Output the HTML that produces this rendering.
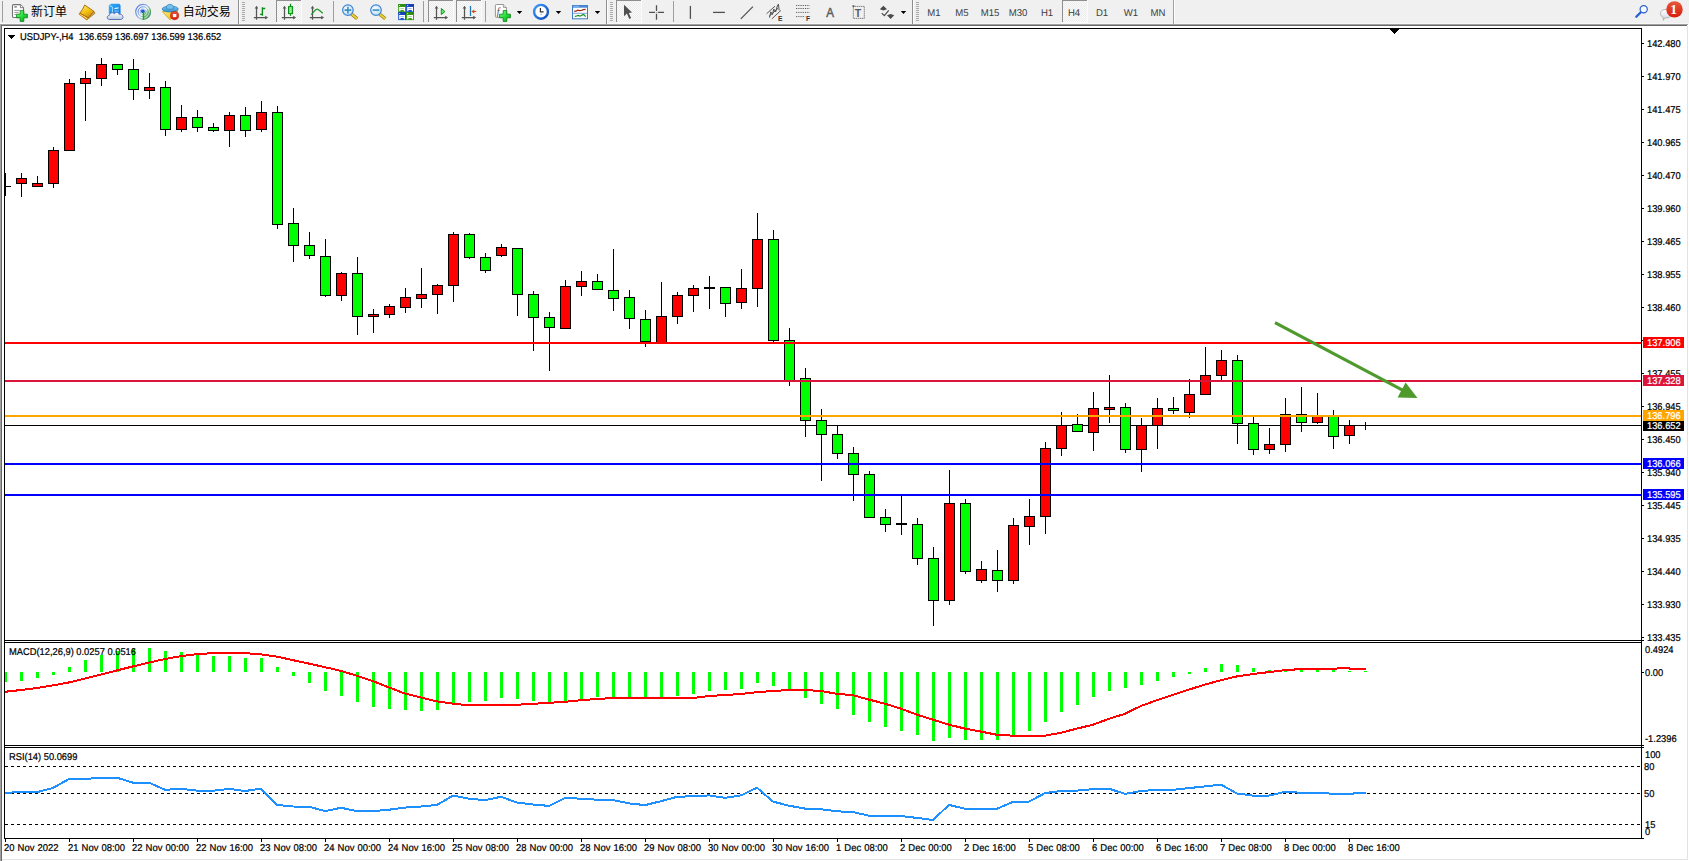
<!DOCTYPE html>
<html lang="zh-CN">
<head>
<meta charset="utf-8">
<title>USDJPY-,H4</title>
<style>
html,body{margin:0;padding:0;background:#fff;}
body{width:1689px;height:861px;overflow:hidden;position:relative;font-family:"Liberation Sans","Noto Sans CJK SC",sans-serif;}
#tb{position:absolute;left:0;top:0;width:1689px;height:23px;background:#f0f0f0;}
.t{position:absolute;white-space:pre;font-size:9.9px;line-height:11px;text-rendering:geometricPrecision;color:#000;transform:scaleX(0.944);transform-origin:0 50%;-webkit-text-stroke:0.22px #000;}
.d{transform:scaleX(0.955);word-spacing:0.5px;}
.tf{position:absolute;white-space:pre;font-size:9.9px;line-height:11px;color:#3c3c3c;width:40px;text-align:center;text-rendering:geometricPrecision;transform:scaleX(0.97);}
.one{position:absolute;left:1670.2px;top:1.5px;font-family:"Liberation Serif",serif;font-weight:bold;font-size:13.7px;line-height:15px;color:#fff;text-rendering:geometricPrecision;}
.cn{position:absolute;white-space:pre;font-size:12px;line-height:14px;color:#000;}
.pl{position:absolute;left:1643px;width:41px;height:11px;color:#fff;}
.pl span{position:absolute;left:4px;top:1px;white-space:pre;font-size:9.9px;line-height:11px;text-rendering:geometricPrecision;transform:scaleX(0.944);transform-origin:0 50%;-webkit-text-stroke:0.22px #fff;}
svg{position:absolute;left:0;top:0;}
</style>
</head>
<body>
<div id="tb"></div>

<svg width="1689" height="861" viewBox="0 0 1689 861">
<g shape-rendering="crispEdges">
<rect x="0" y="23" width="1689" height="1" fill="#f7f7f7"/>
<rect x="0" y="24" width="1688" height="1" fill="#a0a0a0"/>
<rect x="1" y="25" width="1686" height="1" fill="#696969"/>
<rect x="0" y="24" width="1" height="837" fill="#a0a0a0"/>
<rect x="1" y="25" width="1" height="836" fill="#696969"/>
<rect x="1687" y="26" width="1" height="834" fill="#e3e3e3"/>
<rect x="2" y="859" width="1686" height="1" fill="#e3e3e3"/>
<g fill="#000">
<rect x="4" y="28" width="1638" height="1"/>
<rect x="4" y="28" width="1" height="811"/>
<rect x="1641" y="28" width="1" height="811"/>
<rect x="4" y="640" width="1638" height="1"/>
<rect x="4" y="642" width="1638" height="1"/>
<rect x="4" y="745" width="1638" height="1"/>
<rect x="4" y="747" width="1638" height="1"/>
<rect x="4" y="838" width="1638" height="1"/>
</g>
<rect x="5" y="641" width="1636" height="1" fill="#fff"/>
<rect x="5" y="746" width="1636" height="1" fill="#fff"/>
<g fill="#000">
<rect x="1642" y="43" width="2" height="1"/>
<rect x="1642" y="76" width="2" height="1"/>
<rect x="1642" y="109" width="2" height="1"/>
<rect x="1642" y="142" width="2" height="1"/>
<rect x="1642" y="175" width="2" height="1"/>
<rect x="1642" y="208" width="2" height="1"/>
<rect x="1642" y="241" width="2" height="1"/>
<rect x="1642" y="274" width="2" height="1"/>
<rect x="1642" y="307" width="2" height="1"/>
<rect x="1642" y="373" width="2" height="1"/>
<rect x="1642" y="406" width="2" height="1"/>
<rect x="1642" y="439" width="2" height="1"/>
<rect x="1642" y="472" width="2" height="1"/>
<rect x="1642" y="505" width="2" height="1"/>
<rect x="1642" y="538" width="2" height="1"/>
<rect x="1642" y="571" width="2" height="1"/>
<rect x="1642" y="604" width="2" height="1"/>
<rect x="1642" y="637" width="2" height="1"/>
<rect x="1642" y="340" width="2" height="1"/>
<rect x="1642" y="672" width="2" height="1"/>
<rect x="1642" y="640" width="2" height="1"/>
<rect x="1642" y="745" width="2" height="1"/>
<rect x="1642" y="747" width="2" height="1"/>
<rect x="1642" y="838" width="2" height="1"/>
<rect x="5" y="839" width="1" height="3"/>
<rect x="69" y="839" width="1" height="3"/>
<rect x="133" y="839" width="1" height="3"/>
<rect x="197" y="839" width="1" height="3"/>
<rect x="261" y="839" width="1" height="3"/>
<rect x="325" y="839" width="1" height="3"/>
<rect x="389" y="839" width="1" height="3"/>
<rect x="453" y="839" width="1" height="3"/>
<rect x="517" y="839" width="1" height="3"/>
<rect x="581" y="839" width="1" height="3"/>
<rect x="645" y="839" width="1" height="3"/>
<rect x="709" y="839" width="1" height="3"/>
<rect x="773" y="839" width="1" height="3"/>
<rect x="837" y="839" width="1" height="3"/>
<rect x="901" y="839" width="1" height="3"/>
<rect x="965" y="839" width="1" height="3"/>
<rect x="1029" y="839" width="1" height="3"/>
<rect x="1093" y="839" width="1" height="3"/>
<rect x="1157" y="839" width="1" height="3"/>
<rect x="1221" y="839" width="1" height="3"/>
<rect x="1285" y="839" width="1" height="3"/>
<rect x="1349" y="839" width="1" height="3"/>
</g>
</g>
<g shape-rendering="crispEdges" fill="#000"><rect x="1390" y="29" width="9" height="1"/><rect x="1391" y="30" width="7" height="1"/><rect x="1392" y="31" width="5" height="1"/><rect x="1393" y="32" width="3" height="1"/><rect x="1394" y="33" width="1" height="1"/></g>
<defs><clipPath id="cm"><rect x="5" y="29" width="1636" height="611"/></clipPath><clipPath id="c2"><rect x="5" y="643" width="1636" height="102"/></clipPath><clipPath id="c3"><rect x="5" y="748" width="1636" height="90"/></clipPath></defs>
<g shape-rendering="crispEdges" fill="#000" clip-path="url(#cm)">
<rect x="5" y="425" width="1636" height="1" fill="#000"/>
<rect x="21" y="173" width="1" height="24"/>
<rect x="16" y="178" width="11" height="6"/>
<rect x="17" y="179" width="9" height="4" fill="#FF0000"/>
<rect x="37" y="176" width="1" height="11"/>
<rect x="32" y="183" width="11" height="4"/>
<rect x="33" y="184" width="9" height="2" fill="#FF0000"/>
<rect x="53" y="147" width="1" height="41"/>
<rect x="48" y="150" width="11" height="34"/>
<rect x="49" y="151" width="9" height="32" fill="#FF0000"/>
<rect x="69" y="79" width="1" height="72"/>
<rect x="64" y="83" width="11" height="68"/>
<rect x="65" y="84" width="9" height="66" fill="#FF0000"/>
<rect x="85" y="71" width="1" height="50"/>
<rect x="80" y="78" width="11" height="6"/>
<rect x="81" y="79" width="9" height="4" fill="#FF0000"/>
<rect x="101" y="58" width="1" height="28"/>
<rect x="96" y="64" width="11" height="15"/>
<rect x="97" y="65" width="9" height="13" fill="#FF0000"/>
<rect x="117" y="64" width="1" height="11"/>
<rect x="112" y="64" width="11" height="6"/>
<rect x="113" y="65" width="9" height="4" fill="#00FF00"/>
<rect x="133" y="59" width="1" height="41"/>
<rect x="128" y="69" width="11" height="21"/>
<rect x="129" y="70" width="9" height="19" fill="#00FF00"/>
<rect x="149" y="73" width="1" height="26"/>
<rect x="144" y="87" width="11" height="4"/>
<rect x="145" y="88" width="9" height="2" fill="#FF0000"/>
<rect x="165" y="81" width="1" height="55"/>
<rect x="160" y="87" width="11" height="43"/>
<rect x="161" y="88" width="9" height="41" fill="#00FF00"/>
<rect x="181" y="105" width="1" height="27"/>
<rect x="176" y="117" width="11" height="13"/>
<rect x="177" y="118" width="9" height="11" fill="#FF0000"/>
<rect x="197" y="110" width="1" height="22"/>
<rect x="192" y="117" width="11" height="11"/>
<rect x="193" y="118" width="9" height="9" fill="#00FF00"/>
<rect x="213" y="123" width="1" height="9"/>
<rect x="208" y="127" width="11" height="4"/>
<rect x="209" y="128" width="9" height="2" fill="#00FF00"/>
<rect x="229" y="112" width="1" height="35"/>
<rect x="224" y="115" width="11" height="16"/>
<rect x="225" y="116" width="9" height="14" fill="#FF0000"/>
<rect x="245" y="107" width="1" height="30"/>
<rect x="240" y="115" width="11" height="16"/>
<rect x="241" y="116" width="9" height="14" fill="#00FF00"/>
<rect x="261" y="101" width="1" height="31"/>
<rect x="256" y="112" width="11" height="18"/>
<rect x="257" y="113" width="9" height="16" fill="#FF0000"/>
<rect x="277" y="106" width="1" height="123"/>
<rect x="272" y="112" width="11" height="113"/>
<rect x="273" y="113" width="9" height="111" fill="#00FF00"/>
<rect x="293" y="208" width="1" height="54"/>
<rect x="288" y="223" width="11" height="23"/>
<rect x="289" y="224" width="9" height="21" fill="#00FF00"/>
<rect x="309" y="232" width="1" height="27"/>
<rect x="304" y="245" width="11" height="11"/>
<rect x="305" y="246" width="9" height="9" fill="#00FF00"/>
<rect x="325" y="239" width="1" height="58"/>
<rect x="320" y="256" width="11" height="40"/>
<rect x="321" y="257" width="9" height="38" fill="#00FF00"/>
<rect x="341" y="272" width="1" height="29"/>
<rect x="336" y="273" width="11" height="23"/>
<rect x="337" y="274" width="9" height="21" fill="#FF0000"/>
<rect x="357" y="257" width="1" height="78"/>
<rect x="352" y="273" width="11" height="44"/>
<rect x="353" y="274" width="9" height="42" fill="#00FF00"/>
<rect x="373" y="309" width="1" height="24"/>
<rect x="368" y="314" width="11" height="3"/>
<rect x="369" y="315" width="9" height="1" fill="#FF0000"/>
<rect x="389" y="304" width="1" height="14"/>
<rect x="384" y="306" width="11" height="9"/>
<rect x="385" y="307" width="9" height="7" fill="#FF0000"/>
<rect x="405" y="288" width="1" height="25"/>
<rect x="400" y="297" width="11" height="11"/>
<rect x="401" y="298" width="9" height="9" fill="#FF0000"/>
<rect x="421" y="268" width="1" height="40"/>
<rect x="416" y="294" width="11" height="5"/>
<rect x="417" y="295" width="9" height="3" fill="#FF0000"/>
<rect x="437" y="284" width="1" height="30"/>
<rect x="432" y="285" width="11" height="10"/>
<rect x="433" y="286" width="9" height="8" fill="#FF0000"/>
<rect x="453" y="232" width="1" height="70"/>
<rect x="448" y="234" width="11" height="52"/>
<rect x="449" y="235" width="9" height="50" fill="#FF0000"/>
<rect x="469" y="233" width="1" height="26"/>
<rect x="464" y="234" width="11" height="24"/>
<rect x="465" y="235" width="9" height="22" fill="#00FF00"/>
<rect x="485" y="253" width="1" height="20"/>
<rect x="480" y="257" width="11" height="14"/>
<rect x="481" y="258" width="9" height="12" fill="#00FF00"/>
<rect x="501" y="244" width="1" height="13"/>
<rect x="496" y="247" width="11" height="9"/>
<rect x="497" y="248" width="9" height="7" fill="#FF0000"/>
<rect x="517" y="248" width="1" height="68"/>
<rect x="512" y="248" width="11" height="47"/>
<rect x="513" y="249" width="9" height="45" fill="#00FF00"/>
<rect x="533" y="291" width="1" height="60"/>
<rect x="528" y="294" width="11" height="24"/>
<rect x="529" y="295" width="9" height="22" fill="#00FF00"/>
<rect x="549" y="312" width="1" height="59"/>
<rect x="544" y="317" width="11" height="11"/>
<rect x="545" y="318" width="9" height="9" fill="#00FF00"/>
<rect x="565" y="280" width="1" height="49"/>
<rect x="560" y="286" width="11" height="43"/>
<rect x="561" y="287" width="9" height="41" fill="#FF0000"/>
<rect x="581" y="271" width="1" height="25"/>
<rect x="576" y="281" width="11" height="6"/>
<rect x="577" y="282" width="9" height="4" fill="#FF0000"/>
<rect x="597" y="274" width="1" height="16"/>
<rect x="592" y="281" width="11" height="9"/>
<rect x="593" y="282" width="9" height="7" fill="#00FF00"/>
<rect x="613" y="249" width="1" height="62"/>
<rect x="608" y="290" width="11" height="9"/>
<rect x="609" y="291" width="9" height="7" fill="#00FF00"/>
<rect x="629" y="290" width="1" height="39"/>
<rect x="624" y="297" width="11" height="22"/>
<rect x="625" y="298" width="9" height="20" fill="#00FF00"/>
<rect x="645" y="310" width="1" height="37"/>
<rect x="640" y="319" width="11" height="23"/>
<rect x="641" y="320" width="9" height="21" fill="#00FF00"/>
<rect x="661" y="282" width="1" height="61"/>
<rect x="656" y="316" width="11" height="27"/>
<rect x="657" y="317" width="9" height="25" fill="#FF0000"/>
<rect x="677" y="292" width="1" height="32"/>
<rect x="672" y="295" width="11" height="22"/>
<rect x="673" y="296" width="9" height="20" fill="#FF0000"/>
<rect x="693" y="285" width="1" height="27"/>
<rect x="688" y="288" width="11" height="8"/>
<rect x="689" y="289" width="9" height="6" fill="#FF0000"/>
<rect x="725" y="287" width="1" height="30"/>
<rect x="720" y="287" width="11" height="17"/>
<rect x="721" y="288" width="9" height="15" fill="#00FF00"/>
<rect x="741" y="269" width="1" height="40"/>
<rect x="736" y="288" width="11" height="15"/>
<rect x="737" y="289" width="9" height="13" fill="#FF0000"/>
<rect x="757" y="213" width="1" height="94"/>
<rect x="752" y="239" width="11" height="50"/>
<rect x="753" y="240" width="9" height="48" fill="#FF0000"/>
<rect x="773" y="230" width="1" height="112"/>
<rect x="768" y="239" width="11" height="102"/>
<rect x="769" y="240" width="9" height="100" fill="#00FF00"/>
<rect x="789" y="328" width="1" height="58"/>
<rect x="784" y="340" width="11" height="41"/>
<rect x="785" y="341" width="9" height="39" fill="#00FF00"/>
<rect x="805" y="368" width="1" height="69"/>
<rect x="800" y="378" width="11" height="43"/>
<rect x="801" y="379" width="9" height="41" fill="#00FF00"/>
<rect x="821" y="409" width="1" height="72"/>
<rect x="816" y="420" width="11" height="15"/>
<rect x="817" y="421" width="9" height="13" fill="#00FF00"/>
<rect x="837" y="426" width="1" height="33"/>
<rect x="832" y="434" width="11" height="20"/>
<rect x="833" y="435" width="9" height="18" fill="#00FF00"/>
<rect x="853" y="447" width="1" height="54"/>
<rect x="848" y="453" width="11" height="22"/>
<rect x="849" y="454" width="9" height="20" fill="#00FF00"/>
<rect x="869" y="471" width="1" height="47"/>
<rect x="864" y="474" width="11" height="44"/>
<rect x="865" y="475" width="9" height="42" fill="#00FF00"/>
<rect x="885" y="509" width="1" height="23"/>
<rect x="880" y="517" width="11" height="8"/>
<rect x="881" y="518" width="9" height="6" fill="#00FF00"/>
<rect x="917" y="518" width="1" height="47"/>
<rect x="912" y="524" width="11" height="35"/>
<rect x="913" y="525" width="9" height="33" fill="#00FF00"/>
<rect x="933" y="547" width="1" height="79"/>
<rect x="928" y="558" width="11" height="43"/>
<rect x="929" y="559" width="9" height="41" fill="#00FF00"/>
<rect x="949" y="470" width="1" height="135"/>
<rect x="944" y="503" width="11" height="98"/>
<rect x="945" y="504" width="9" height="96" fill="#FF0000"/>
<rect x="965" y="499" width="1" height="75"/>
<rect x="960" y="503" width="11" height="69"/>
<rect x="961" y="504" width="9" height="67" fill="#00FF00"/>
<rect x="981" y="561" width="1" height="22"/>
<rect x="976" y="569" width="11" height="12"/>
<rect x="977" y="570" width="9" height="10" fill="#FF0000"/>
<rect x="997" y="550" width="1" height="42"/>
<rect x="992" y="570" width="11" height="11"/>
<rect x="993" y="571" width="9" height="9" fill="#00FF00"/>
<rect x="1013" y="518" width="1" height="66"/>
<rect x="1008" y="525" width="11" height="56"/>
<rect x="1009" y="526" width="9" height="54" fill="#FF0000"/>
<rect x="1029" y="499" width="1" height="46"/>
<rect x="1024" y="516" width="11" height="11"/>
<rect x="1025" y="517" width="9" height="9" fill="#FF0000"/>
<rect x="1045" y="442" width="1" height="92"/>
<rect x="1040" y="448" width="11" height="69"/>
<rect x="1041" y="449" width="9" height="67" fill="#FF0000"/>
<rect x="1061" y="412" width="1" height="44"/>
<rect x="1056" y="425" width="11" height="24"/>
<rect x="1057" y="426" width="9" height="22" fill="#FF0000"/>
<rect x="1077" y="414" width="1" height="18"/>
<rect x="1072" y="424" width="11" height="8"/>
<rect x="1073" y="425" width="9" height="6" fill="#00FF00"/>
<rect x="1093" y="392" width="1" height="59"/>
<rect x="1088" y="408" width="11" height="25"/>
<rect x="1089" y="409" width="9" height="23" fill="#FF0000"/>
<rect x="1109" y="375" width="1" height="48"/>
<rect x="1104" y="407" width="11" height="3"/>
<rect x="1105" y="408" width="9" height="1" fill="#FF0000"/>
<rect x="1125" y="403" width="1" height="50"/>
<rect x="1120" y="407" width="11" height="43"/>
<rect x="1121" y="408" width="9" height="41" fill="#00FF00"/>
<rect x="1141" y="418" width="1" height="54"/>
<rect x="1136" y="425" width="11" height="25"/>
<rect x="1137" y="426" width="9" height="23" fill="#FF0000"/>
<rect x="1157" y="398" width="1" height="51"/>
<rect x="1152" y="408" width="11" height="18"/>
<rect x="1153" y="409" width="9" height="16" fill="#FF0000"/>
<rect x="1173" y="397" width="1" height="17"/>
<rect x="1168" y="408" width="11" height="3"/>
<rect x="1169" y="409" width="9" height="1" fill="#00FF00"/>
<rect x="1189" y="379" width="1" height="39"/>
<rect x="1184" y="394" width="11" height="19"/>
<rect x="1185" y="395" width="9" height="17" fill="#FF0000"/>
<rect x="1205" y="347" width="1" height="48"/>
<rect x="1200" y="375" width="11" height="20"/>
<rect x="1201" y="376" width="9" height="18" fill="#FF0000"/>
<rect x="1221" y="350" width="1" height="30"/>
<rect x="1216" y="360" width="11" height="16"/>
<rect x="1217" y="361" width="9" height="14" fill="#FF0000"/>
<rect x="1237" y="355" width="1" height="89"/>
<rect x="1232" y="360" width="11" height="64"/>
<rect x="1233" y="361" width="9" height="62" fill="#00FF00"/>
<rect x="1253" y="417" width="1" height="38"/>
<rect x="1248" y="423" width="11" height="27"/>
<rect x="1249" y="424" width="9" height="25" fill="#00FF00"/>
<rect x="1269" y="428" width="1" height="26"/>
<rect x="1264" y="444" width="11" height="6"/>
<rect x="1265" y="445" width="9" height="4" fill="#FF0000"/>
<rect x="1285" y="398" width="1" height="54"/>
<rect x="1280" y="414" width="11" height="31"/>
<rect x="1281" y="415" width="9" height="29" fill="#FF0000"/>
<rect x="1301" y="387" width="1" height="45"/>
<rect x="1296" y="414" width="11" height="9"/>
<rect x="1297" y="415" width="9" height="7" fill="#00FF00"/>
<rect x="1317" y="393" width="1" height="31"/>
<rect x="1312" y="415" width="11" height="8"/>
<rect x="1313" y="416" width="9" height="6" fill="#FF0000"/>
<rect x="1333" y="410" width="1" height="39"/>
<rect x="1328" y="416" width="11" height="21"/>
<rect x="1329" y="417" width="9" height="19" fill="#00FF00"/>
<rect x="1349" y="420" width="1" height="24"/>
<rect x="1344" y="425" width="11" height="11"/>
<rect x="1345" y="426" width="9" height="9" fill="#FF0000"/>
<rect x="5" y="173" width="1" height="23"/>
<rect x="0" y="186" width="11" height="1"/>
<rect x="709" y="276" width="1" height="33"/>
<rect x="704" y="287" width="11" height="2"/>
<rect x="901" y="496" width="1" height="39"/>
<rect x="896" y="523" width="11" height="2"/>
<rect x="1365" y="422" width="1" height="8"/>
<rect x="1360" y="425" width="11" height="1"/>
<rect x="5" y="342" width="1636" height="2" fill="#FF0000"/>
<rect x="5" y="380" width="1636" height="2" fill="#DC143C"/>
<rect x="5" y="415" width="1636" height="2" fill="#FFA500"/>
<rect x="5" y="463" width="1636" height="2" fill="#0000FF"/>
<rect x="5" y="494" width="1636" height="2" fill="#0000FF"/>
</g>
<g clip-path="url(#cm)"><line x1="1275" y1="322.6" x2="1403" y2="390.4" stroke="#4f9a2d" stroke-width="3.2"/><path d="M1417.5 398 L1397.6 397.4 L1405.6 382.6 Z" fill="#4f9a2d"/></g>
<g shape-rendering="crispEdges" clip-path="url(#c2)">
<g fill="#00FF00">
<rect x="4" y="672" width="3" height="10"/>
<rect x="20" y="672" width="3" height="9"/>
<rect x="36" y="672" width="3" height="6"/>
<rect x="52" y="672" width="3" height="3"/>
<rect x="68" y="667" width="3" height="5"/>
<rect x="84" y="660" width="3" height="12"/>
<rect x="100" y="655" width="3" height="17"/>
<rect x="116" y="651" width="3" height="21"/>
<rect x="132" y="649" width="3" height="23"/>
<rect x="148" y="648" width="3" height="24"/>
<rect x="164" y="651" width="3" height="21"/>
<rect x="180" y="652" width="3" height="20"/>
<rect x="196" y="655" width="3" height="17"/>
<rect x="212" y="656" width="3" height="16"/>
<rect x="228" y="656" width="3" height="16"/>
<rect x="244" y="658" width="3" height="14"/>
<rect x="260" y="658" width="3" height="14"/>
<rect x="276" y="667" width="3" height="5"/>
<rect x="292" y="672" width="3" height="4"/>
<rect x="308" y="672" width="3" height="11"/>
<rect x="324" y="672" width="3" height="19"/>
<rect x="340" y="672" width="3" height="24"/>
<rect x="356" y="672" width="3" height="30"/>
<rect x="372" y="672" width="3" height="35"/>
<rect x="388" y="672" width="3" height="37"/>
<rect x="404" y="672" width="3" height="38"/>
<rect x="420" y="672" width="3" height="39"/>
<rect x="436" y="672" width="3" height="38"/>
<rect x="452" y="672" width="3" height="33"/>
<rect x="468" y="672" width="3" height="30"/>
<rect x="484" y="672" width="3" height="29"/>
<rect x="500" y="672" width="3" height="26"/>
<rect x="516" y="672" width="3" height="27"/>
<rect x="532" y="672" width="3" height="29"/>
<rect x="548" y="672" width="3" height="30"/>
<rect x="564" y="672" width="3" height="29"/>
<rect x="580" y="672" width="3" height="27"/>
<rect x="596" y="672" width="3" height="25"/>
<rect x="612" y="672" width="3" height="25"/>
<rect x="628" y="672" width="3" height="25"/>
<rect x="644" y="672" width="3" height="25"/>
<rect x="660" y="672" width="3" height="25"/>
<rect x="676" y="672" width="3" height="24"/>
<rect x="692" y="672" width="3" height="22"/>
<rect x="708" y="672" width="3" height="19"/>
<rect x="724" y="672" width="3" height="18"/>
<rect x="740" y="672" width="3" height="17"/>
<rect x="756" y="672" width="3" height="11"/>
<rect x="772" y="672" width="3" height="14"/>
<rect x="788" y="672" width="3" height="19"/>
<rect x="804" y="672" width="3" height="26"/>
<rect x="820" y="672" width="3" height="32"/>
<rect x="836" y="672" width="3" height="37"/>
<rect x="852" y="672" width="3" height="43"/>
<rect x="868" y="672" width="3" height="50"/>
<rect x="884" y="672" width="3" height="55"/>
<rect x="900" y="672" width="3" height="59"/>
<rect x="916" y="672" width="3" height="63"/>
<rect x="932" y="672" width="3" height="69"/>
<rect x="948" y="672" width="3" height="66"/>
<rect x="964" y="672" width="3" height="68"/>
<rect x="980" y="672" width="3" height="68"/>
<rect x="996" y="672" width="3" height="68"/>
<rect x="1012" y="672" width="3" height="64"/>
<rect x="1028" y="672" width="3" height="59"/>
<rect x="1044" y="672" width="3" height="50"/>
<rect x="1060" y="672" width="3" height="40"/>
<rect x="1076" y="672" width="3" height="33"/>
<rect x="1092" y="672" width="3" height="25"/>
<rect x="1108" y="672" width="3" height="19"/>
<rect x="1124" y="672" width="3" height="16"/>
<rect x="1140" y="672" width="3" height="13"/>
<rect x="1156" y="672" width="3" height="9"/>
<rect x="1172" y="672" width="3" height="5"/>
<rect x="1188" y="672" width="3" height="2"/>
<rect x="1204" y="668" width="3" height="4"/>
<rect x="1220" y="664" width="3" height="8"/>
<rect x="1236" y="665" width="3" height="7"/>
<rect x="1252" y="668" width="3" height="4"/>
<rect x="1268" y="670" width="3" height="2"/>
<rect x="1284" y="669" width="3" height="3"/>
<rect x="1300" y="670" width="3" height="2"/>
<rect x="1316" y="669" width="3" height="3"/>
<rect x="1332" y="669" width="3" height="3"/>
<rect x="1348" y="671" width="3" height="1"/>
<rect x="1364" y="671" width="3" height="1"/>
</g>
<polyline points="5,691.8 21,690.0 37,688.0 53,685.4 69,682.4 85,678.6 101,674.6 117,670.4 133,666.4 149,662.6 165,659.0 181,656.1 197,654.2 213,653.1 229,653.1 245,653.1 261,654.4 277,656.6 293,660.2 309,663.6 325,667.2 341,670.9 357,675.8 373,681.2 389,687.4 405,693.6 421,697.6 437,701.4 453,703.6 463,704.8 485,704.8 516,704.8 533,703.8 549,702.8 565,701.8 581,700.2 597,699.0 613,698.0 629,698.0 661,698.0 693,698.0 709,696.0 725,695.0 741,694.0 757,692.2 773,691.0 789,690.0 805,690.0 821,691.0 837,693.8 853,695.2 869,699.6 885,703.7 901,708.7 917,714.7 933,719.7 949,724.7 965,728.6 981,731.6 997,734.8 1013,735.7 1029,735.7 1045,735.7 1061,732.7 1077,728.6 1093,724.7 1109,718.8 1125,713.8 1141,705.9 1157,700.2 1173,694.8 1189,689.6 1205,684.5 1221,680.2 1237,676.4 1253,674.0 1269,672.1 1285,670.1 1301,669.1 1317,669.1 1333,668.6 1349,668.2 1351,669.1 1366,669.1" fill="none" stroke="#FF0000" stroke-width="2" stroke-linejoin="round"/>
</g>
<g shape-rendering="crispEdges" clip-path="url(#c3)">
<line x1="5" y1="766.5" x2="1641" y2="766.5" stroke="#000" stroke-width="1" stroke-dasharray="3 3"/>
<line x1="5" y1="793.5" x2="1641" y2="793.5" stroke="#000" stroke-width="1" stroke-dasharray="3 3"/>
<line x1="5" y1="824.5" x2="1641" y2="824.5" stroke="#000" stroke-width="1" stroke-dasharray="3 3"/>
<polyline points="5,793.1 21,791.8 37,792.2 53,787.9 69,779.0 85,779.0 101,777.7 117,777.7 133,782.7 149,782.7 165,789.8 181,788.9 197,790.6 213,790.8 229,788.9 245,791.0 261,788.7 277,804.9 293,806.5 309,806.7 325,811.1 341,807.8 357,811.1 373,811.1 389,809.7 405,807.6 421,806.5 437,804.9 453,795.6 469,798.7 485,800.1 501,796.8 517,802.6 533,804.5 549,805.9 565,798.0 581,798.7 597,799.7 613,800.1 629,803.4 645,805.1 661,801.2 677,796.8 693,796.2 709,795.4 725,797.8 741,795.4 757,787.7 773,801.6 789,805.7 805,808.6 821,809.2 837,811.3 853,812.1 869,815.7 885,815.9 901,816.1 917,817.9 933,820.0 949,804.9 965,808.8 981,808.8 997,808.8 1013,801.8 1029,801.6 1045,793.1 1061,791.0 1077,790.6 1093,789.1 1109,788.7 1125,793.9 1141,791.0 1157,789.8 1173,789.8 1189,788.1 1205,786.4 1221,784.6 1237,793.5 1253,795.6 1269,795.6 1285,791.9 1301,792.7 1317,792.7 1333,793.8 1349,793.8 1366,792.7" fill="none" stroke="#1E90FF" stroke-width="2" stroke-linejoin="round"/>
</g>
</svg>
<div class="t" style="left:20px;top:32px">USDJPY-,H4  136.659 136.697 136.599 136.652</div>
<svg width="20" height="12" style="left:0px;top:30px" shape-rendering="crispEdges"><rect x="8" y="5" width="7" height="1"/><rect x="9" y="6" width="5" height="1"/><rect x="10" y="7" width="3" height="1"/><rect x="11" y="8" width="1" height="1"/></svg>
<div class="t" style="left:9px;top:647px">MACD(12,26,9) 0.0257 0.0516</div>
<div class="t" style="left:9px;top:752px">RSI(14) 50.0699</div>
<div class="t" style="left:1647px;top:39px">142.480</div>
<div class="t" style="left:1647px;top:72px">141.970</div>
<div class="t" style="left:1647px;top:105px">141.475</div>
<div class="t" style="left:1647px;top:138px">140.965</div>
<div class="t" style="left:1647px;top:171px">140.470</div>
<div class="t" style="left:1647px;top:204px">139.960</div>
<div class="t" style="left:1647px;top:237px">139.465</div>
<div class="t" style="left:1647px;top:270px">138.955</div>
<div class="t" style="left:1647px;top:303px">138.460</div>
<div class="t" style="left:1647px;top:369px">137.455</div>
<div class="t" style="left:1647px;top:402px">136.945</div>
<div class="t" style="left:1647px;top:435px">136.450</div>
<div class="t" style="left:1647px;top:468px">135.940</div>
<div class="t" style="left:1647px;top:501px">135.445</div>
<div class="t" style="left:1647px;top:534px">134.935</div>
<div class="t" style="left:1647px;top:567px">134.440</div>
<div class="t" style="left:1647px;top:600px">133.930</div>
<div class="t" style="left:1647px;top:633px">133.435</div>
<div class="t" style="left:1645px;top:645px">0.4924</div>
<div class="t" style="left:1645px;top:668px">0.00</div>
<div class="t" style="left:1645px;top:734px">-1.2396</div>
<div class="t" style="left:1645px;top:750px">100</div>
<div class="t" style="left:1644px;top:762px">80</div>
<div class="t" style="left:1644px;top:789px">50</div>
<div class="t" style="left:1645px;top:820px">15</div>
<div class="t" style="left:1645px;top:827px">0</div>
<div class="pl" style="top:420px;background:#000"><span>136.652</span></div>
<div class="pl" style="top:337px;background:#FF0000"><span>137.906</span></div>
<div class="pl" style="top:375px;background:#DC143C"><span>137.328</span></div>
<div class="pl" style="top:410px;background:#FFA500"><span>136.796</span></div>
<div class="pl" style="top:458px;background:#0000FF"><span>136.066</span></div>
<div class="pl" style="top:489px;background:#0000FF"><span>135.595</span></div>
<div class="t d" style="left:4px;top:843px">20 Nov 2022</div>
<div class="t d" style="left:68px;top:843px">21 Nov 08:00</div>
<div class="t d" style="left:132px;top:843px">22 Nov 00:00</div>
<div class="t d" style="left:196px;top:843px">22 Nov 16:00</div>
<div class="t d" style="left:260px;top:843px">23 Nov 08:00</div>
<div class="t d" style="left:324px;top:843px">24 Nov 00:00</div>
<div class="t d" style="left:388px;top:843px">24 Nov 16:00</div>
<div class="t d" style="left:452px;top:843px">25 Nov 08:00</div>
<div class="t d" style="left:516px;top:843px">28 Nov 00:00</div>
<div class="t d" style="left:580px;top:843px">28 Nov 16:00</div>
<div class="t d" style="left:644px;top:843px">29 Nov 08:00</div>
<div class="t d" style="left:708px;top:843px">30 Nov 00:00</div>
<div class="t d" style="left:772px;top:843px">30 Nov 16:00</div>
<div class="t d" style="left:836px;top:843px">1 Dec 08:00</div>
<div class="t d" style="left:900px;top:843px">2 Dec 00:00</div>
<div class="t d" style="left:964px;top:843px">2 Dec 16:00</div>
<div class="t d" style="left:1028px;top:843px">5 Dec 08:00</div>
<div class="t d" style="left:1092px;top:843px">6 Dec 00:00</div>
<div class="t d" style="left:1156px;top:843px">6 Dec 16:00</div>
<div class="t d" style="left:1220px;top:843px">7 Dec 08:00</div>
<div class="t d" style="left:1284px;top:843px">8 Dec 00:00</div>
<div class="t d" style="left:1348px;top:843px">8 Dec 16:00</div>
<svg width="1689" height="24" viewBox="0 0 1689 24">
<defs>
<linearGradient id="gGold" x1="0.2" y1="0" x2="0.7" y2="1"><stop offset="0" stop-color="#ffe75a"/><stop offset="0.55" stop-color="#f2bf12"/><stop offset="1" stop-color="#c98a08"/></linearGradient>
<linearGradient id="gBlue" x1="0" y1="0" x2="1" y2="1"><stop offset="0" stop-color="#2fb2ff"/><stop offset="1" stop-color="#0a78e0"/></linearGradient>
<linearGradient id="gCloud" x1="0" y1="0" x2="0" y2="1"><stop offset="0" stop-color="#ffffff"/><stop offset="1" stop-color="#bcc9e0"/></linearGradient>
<linearGradient id="gGreen" x1="0" y1="0" x2="1" y2="1"><stop offset="0" stop-color="#8dff96"/><stop offset="0.5" stop-color="#22e038"/><stop offset="1" stop-color="#05a516"/></linearGradient>
<linearGradient id="gCandle" x1="0" y1="0" x2="1" y2="0"><stop offset="0" stop-color="#26d23a"/><stop offset="0.5" stop-color="#8dff96"/><stop offset="1" stop-color="#26d23a"/></linearGradient>
<linearGradient id="gRed" x1="0" y1="0" x2="0" y2="1"><stop offset="0" stop-color="#e8583a"/><stop offset="1" stop-color="#d81c0c"/></linearGradient>
<linearGradient id="gHat" x1="0" y1="0" x2="0" y2="1"><stop offset="0" stop-color="#7cc8f0"/><stop offset="1" stop-color="#2f8fd0"/></linearGradient>
<linearGradient id="gFace" x1="0" y1="0" x2="1" y2="1"><stop offset="0" stop-color="#ffef70"/><stop offset="1" stop-color="#e8b010"/></linearGradient>
<linearGradient id="gClock" x1="0" y1="0" x2="1" y2="1"><stop offset="0" stop-color="#3c9cff"/><stop offset="1" stop-color="#0a4ab8"/></linearGradient>
<radialGradient id="gLens" cx="0.4" cy="0.35" r="0.7"><stop offset="0" stop-color="#f4fbff"/><stop offset="1" stop-color="#b9def8"/></radialGradient>
<linearGradient id="gRing" x1="0" y1="0.2" x2="1" y2="0.8"><stop offset="0" stop-color="#2a5ad8"/><stop offset="0.5" stop-color="#9ab8ea"/><stop offset="0.8" stop-color="#5aa85a"/><stop offset="1" stop-color="#2a6aa8"/></linearGradient>
<linearGradient id="gWedge" x1="0" y1="0" x2="1" y2="1"><stop offset="0.2" stop-color="#e8f4e4"/><stop offset="1" stop-color="#4ab04a"/></linearGradient>
<radialGradient id="gSig" cx="0.5" cy="0.5" r="0.5"><stop offset="0" stop-color="#ffffff"/><stop offset="1" stop-color="#e2ebf6"/></radialGradient>
<linearGradient id="gBubble" x1="0" y1="0" x2="0" y2="1"><stop offset="0" stop-color="#ffffff"/><stop offset="1" stop-color="#d0d2e4"/></linearGradient>
<pattern id="hatch" width="2" height="2" patternUnits="userSpaceOnUse"><rect width="2" height="2" fill="#fbfbfb"/><rect width="1" height="1" fill="#ebebeb"/><rect x="1" y="1" width="1" height="1" fill="#ebebeb"/></pattern>
<g id="sep" shape-rendering="crispEdges"><rect x="0" y="1" width="1" height="21" fill="#9d9d9d"/></g>
<g id="bsep" shape-rendering="crispEdges"><rect x="0" y="0" width="1" height="24" fill="#8e8e8e"/><rect x="1" y="0" width="1" height="24" fill="#fdfdfd"/></g>
<g id="grip" shape-rendering="crispEdges" fill="#a9a9a9"><rect y="2" width="3" height="1"/><rect y="4" width="3" height="1"/><rect y="6" width="3" height="1"/><rect y="8" width="3" height="1"/><rect y="10" width="3" height="1"/><rect y="12" width="3" height="1"/><rect y="14" width="3" height="1"/><rect y="16" width="3" height="1"/><rect y="18" width="3" height="1"/><rect y="20" width="3" height="1"/></g>
<g id="axes"><path d="M3.5 3.5V15.8M0.8 13.6H13.5" stroke="#555" stroke-width="1.25" fill="none"/><path d="M3.5 1.7L1.7 4.6H5.3ZM15.1 13.6L12.2 11.8V15.4Z" fill="#555"/></g>
<g id="dd"><path d="M0 0H5.4L2.7 3Z" fill="#000"/></g>
<g id="plus"><path d="M4 0.4H7.6V4H11.2V7.6H7.6V11.2H4V7.6H0.4V4H4Z" fill="url(#gGreen)" stroke="#0a7d12" stroke-width="0.8" stroke-linejoin="round"/></g>
<g id="pressed" shape-rendering="crispEdges"><rect x="0" y="0" width="25" height="22" fill="url(#hatch)"/><rect x="0" y="0" width="25" height="1" fill="#8f8f8f"/><rect x="0" y="0" width="1" height="22" fill="#8f8f8f"/><rect x="25" y="0" width="1" height="23" fill="#fbfbfb"/><rect x="0" y="22" width="25" height="1" fill="#fbfbfb"/></g>
</defs>

<!-- left separator -->
<use href="#sep" x="2" y="0"/>

<!-- new order -->
<g transform="translate(12,4)">
<path d="M1.6 0.6H8.4L11.5 3.7V12.4Q11.5 13.5 10.4 13.5H1.6Q0.5 13.5 0.5 12.4V1.7Q0.5 0.6 1.6 0.6Z" fill="#fff" stroke="#747474" stroke-width="1.1"/>
<path d="M8.4 0.6V3.7H11.5" fill="#f2f2f2" stroke="#747474" stroke-width="0.9"/>
<path d="M2.3 2.9H4.8" stroke="#8c8c8c" stroke-width="1.6"/>
<path d="M2.3 6.4H7.8M2.3 8.4H6.6M2.3 10.5H4.4" stroke="#9a9a9a" stroke-width="1"/>
<use href="#plus" x="4.2" y="6.2"/>
</g>

<!-- book (history) -->
<g transform="translate(79,5)">
<path d="M9.2 12.7L14.9 6.3L16.1 8.3L7.8 14.8Z" fill="#cdb878" stroke="#9a6a10" stroke-width="0.6" stroke-linejoin="round"/>
<path d="M9.6 13.1L15.3 7.1M9 14L15.7 7.9" stroke="#a8822a" stroke-width="0.4"/>
<path d="M0.9 8.1L9.2 12.7L7.7 14.9L-0.1 9Z" fill="#eeb82a" stroke="#a86808" stroke-width="0.8" stroke-linejoin="round"/>
<path d="M0.6 8.7L8.4 13.7" stroke="#ffe27a" stroke-width="0.8"/>
<path d="M5.7 0L14.9 6.3L9.2 12.7L0.9 8.1Q3.8 4.6 5.7 0Z" fill="url(#gGold)" stroke="#a5650a" stroke-width="0.9" stroke-linejoin="round"/>
</g>

<!-- server / cloud -->
<g transform="translate(107,4)">
<path d="M2.2 1.2L4.6 0.1H12.4L13.3 1.6V9.6H2.2Z" fill="url(#gBlue)" stroke="#2a86e0" stroke-width="0.5"/>
<path d="M2.4 1.4L5.4 3V10" stroke="#c8ecff" stroke-width="0.8" fill="none"/>
<path d="M7.5 4.6L11.6 3.9" stroke="#eaf7ff" stroke-width="1.2"/>
<path d="M7.4 7H11.8" stroke="#9fd6ff" stroke-width="0.9"/>
<path d="M2.6 15.5C-0.6 15.5 -0.5 11.4 2.5 11.2C2.6 8.6 6.1 8 7.4 9.8C8.6 7.6 11.6 8.1 11.9 10.2C16.4 9.4 17.5 15.5 13.4 15.5Z" fill="url(#gCloud)" stroke="#4c6cae" stroke-width="0.95"/>
</g>

<!-- signals -->
<g transform="translate(134.8,3.5)">
<circle cx="8.3" cy="8.3" r="8" fill="url(#gSig)"/>
<path d="M8.3 8.3L8.3 16.3A8 8 0 0 0 15.6 5Z" fill="url(#gWedge)"/>
<circle cx="8.3" cy="8.3" r="7.4" fill="none" stroke="url(#gRing)" stroke-width="1.1" opacity="0.85"/>
<circle cx="8.3" cy="8.3" r="5" fill="none" stroke="url(#gRing)" stroke-width="1" opacity="0.8"/>
<circle cx="8.3" cy="8.3" r="2.9" fill="none" stroke="url(#gRing)" stroke-width="0.9" opacity="0.7"/>
<circle cx="8.1" cy="7.8" r="1.9" fill="#2256d0"/>
<path d="M8.7 8.6V16.3" stroke="#18a818" stroke-width="1.5"/>
</g>

<!-- auto trading -->
<g transform="translate(162,4)">
<path d="M0.4 7.6L15.8 7.2L8 15.8Z" fill="url(#gFace)" stroke="#c89a18" stroke-width="0.8" stroke-linejoin="round"/>
<ellipse cx="8.2" cy="5" rx="8" ry="3" fill="url(#gHat)" stroke="#2c80b8" stroke-width="0.8"/>
<path d="M4.3 4.4C4.3 1.6 5.6 0.3 7.9 0.3C10.2 0.3 11.6 1.6 11.8 4.4C10 5.6 6 5.6 4.3 4.4Z" fill="#74c0ec" stroke="#2c80b8" stroke-width="0.7"/>
<circle cx="12.6" cy="11.6" r="4.1" fill="url(#gRed)" stroke="#b01808" stroke-width="0.6"/>
<rect x="10.9" y="10" width="3.4" height="3.1" fill="#fff"/>
</g>

<use href="#bsep" x="238" y="0"/>
<use href="#grip" x="242" y="0"/>

<!-- bar chart -->
<use href="#axes" x="253" y="4"/>
<path d="M262.4 7.2V15.8M262.4 8.5H265.2M260 14.4H262.4" stroke="#0c8c14" stroke-width="1.35" fill="none"/>

<!-- candle chart (pressed) -->
<use href="#pressed" x="276" y="0"/>
<use href="#axes" x="281" y="4"/>
<path d="M290.5 3.8V15.8" stroke="#0c8c14" stroke-width="1.3"/>
<rect x="288.5" y="6.6" width="4.1" height="7" fill="url(#gCandle)" stroke="#0c8c14" stroke-width="1"/>

<!-- line chart -->
<use href="#axes" x="309" y="4"/>
<path d="M311.2 14.6C313.5 12.5 315.2 9.2 317.1 9.2C319 9.2 320.5 12 322.8 13.1" stroke="#1e9628" stroke-width="1.25" fill="none"/>

<use href="#sep" x="333" y="0"/>

<!-- zoom in -->
<g transform="translate(342,4)">
<path d="M9.4 10L15.2 14.8" stroke="#9a7a10" stroke-width="3.4" stroke-linecap="butt"/>
<path d="M9.4 10L15.2 14.8" stroke="#e6cf3a" stroke-width="2" stroke-linecap="butt"/>
<circle cx="5.9" cy="6.1" r="5.3" fill="url(#gLens)" stroke="#3d82d4" stroke-width="1.2"/>
<path d="M2.6 6.1H9.2M5.9 2.8V9.4" stroke="#3f8db8" stroke-width="1.6"/>
</g>
<!-- zoom out -->
<g transform="translate(370.1,4)">
<path d="M9.4 10L15.2 14.8" stroke="#9a7a10" stroke-width="3.4" stroke-linecap="butt"/>
<path d="M9.4 10L15.2 14.8" stroke="#e6cf3a" stroke-width="2" stroke-linecap="butt"/>
<circle cx="5.9" cy="6.1" r="5.3" fill="url(#gLens)" stroke="#3d82d4" stroke-width="1.2"/>
<path d="M2.6 6.1H9.2" stroke="#3f8db8" stroke-width="1.6"/>
</g>
<!-- tile windows -->
<g transform="translate(398.2,4.1)">
<rect x="0" y="0" width="7.9" height="8" fill="#38a018"/><rect x="7.9" y="0" width="7.9" height="8" fill="#1c52cc"/>
<rect x="0" y="8" width="7.9" height="8" fill="#1c52cc"/><rect x="7.9" y="8" width="7.9" height="8" fill="#38a018"/>
<rect x="0" y="0" width="7.9" height="2.2" fill="#2d8a10"/><rect x="7.9" y="0" width="7.9" height="2.2" fill="#1440b0"/>
<rect x="0" y="8" width="7.9" height="2.2" fill="#1440b0"/><rect x="7.9" y="8" width="7.9" height="2.2" fill="#2d8a10"/>
<g fill="#fff">
<path d="M1 3H6.8V7.2H5.6V6H2.2V7.2H1Z"/><path d="M9 3H14.8V7.2H13.6V6H10.2V7.2H9Z"/>
<path d="M1 11H6.8V15.2H5.6V14H2.2V15.2H1Z"/><path d="M9 11H14.8V15.2H13.6V14H10.2V15.2H9Z"/>
<rect x="1" y="1" width="0.9" height="0.9"/><rect x="9" y="1" width="0.9" height="0.9"/><rect x="1" y="9" width="0.9" height="0.9"/><rect x="9" y="9" width="0.9" height="0.9"/>
</g>
<path d="M2.2 4.5H5.6" stroke="#9ad080" stroke-width="0.9"/><path d="M10.2 4.5H13.6" stroke="#8aa8f0" stroke-width="0.9"/>
<path d="M2.2 12.5H5.6" stroke="#8aa8f0" stroke-width="0.9"/><path d="M10.2 12.5H13.6" stroke="#9ad080" stroke-width="0.9"/>
</g>

<use href="#sep" x="423" y="0"/>

<!-- auto scroll (pressed) -->
<use href="#pressed" x="428" y="0"/>
<use href="#axes" x="433" y="4"/>
<path d="M441.3 8.5L444.9 11.5L441.3 14.6Z" fill="#6be078" stroke="#0c9a18" stroke-width="1" stroke-linejoin="round"/>
<!-- chart shift (pressed) -->
<use href="#pressed" x="456" y="0"/>
<use href="#axes" x="461" y="4"/>
<path d="M470.5 5.9V15.9" stroke="#1e78b4" stroke-width="1.3"/>
<path d="M476.2 11.5H472" stroke="#d84a08" stroke-width="1.1" fill="none"/>
<path d="M471.4 11.5L474.4 9.4L473.9 11.5L474.4 13.6Z" fill="#d84a08"/>

<use href="#sep" x="485" y="0"/>

<!-- indicators -->
<g transform="translate(495,4)">
<path d="M1.4 0.5H8.4L11.4 3.5V12.4Q11.4 13.4 10.4 13.4H1.4Q0.4 13.4 0.4 12.4V1.5Q0.4 0.5 1.4 0.5Z" fill="#fff" stroke="#8a8a8a" stroke-width="0.9"/>
<path d="M8.4 0.5V3.5H11.4" fill="#eee" stroke="#8a8a8a" stroke-width="0.8"/>
<text x="1.8" y="10.5" font-size="10" font-style="italic" fill="#5a4a30" font-family="Liberation Serif,serif">f</text>
<use href="#plus" x="4.2" y="6.2"/>
</g>
<use href="#dd" x="516.8" y="11"/>

<!-- clock -->
<g transform="translate(533,3.8)">
<circle cx="8" cy="8" r="6.9" fill="#fdfdfd" stroke="url(#gClock)" stroke-width="2.4"/>
<circle cx="8" cy="8" r="5.7" fill="none" stroke="#b8b8b8" stroke-width="0.6" stroke-dasharray="0.5 2.48"/>
<path d="M7.4 4.3V8H10.6" stroke="#333" stroke-width="1.2" fill="none"/>
<path d="M7.2 10.6H9" stroke="#5aa0f0" stroke-width="0.7"/>
</g>
<use href="#dd" x="555.8" y="11"/>

<!-- templates -->
<g transform="translate(572,5)">
<rect x="0.5" y="0.5" width="15" height="13.3" fill="#fdfeff" stroke="#3a7ac8" stroke-width="1"/>
<rect x="0.5" y="0.5" width="15" height="2.2" fill="#4a8ad8"/>
<path d="M1.5 1.3H7" stroke="#a8d0ff" stroke-width="0.7"/>
<path d="M2.2 6.4L4 6.2L5.8 5.2L7.6 5.6L9.4 5.5L11.2 4.6L13.6 4.4" stroke="#a82408" stroke-width="1.2" fill="none"/>
<path d="M0.5 8.3H15.5" stroke="#6a9ad8" stroke-width="0.9"/>
<path d="M2.8 11.4L4.6 11L6.2 10.4L8 11.2L9.8 10.2L11.2 9.4L12.4 10.2L13.6 11.6" stroke="#0c8c14" stroke-width="1.2" fill="none"/>
</g>
<use href="#dd" x="594.8" y="11"/>

<use href="#bsep" x="606" y="0"/>
<use href="#grip" x="610" y="0"/>

<!-- cursor (pressed) -->
<use href="#pressed" x="616" y="0"/>
<path d="M624 4.7V16.2L626.9 13.6L629.3 18.9L631.1 18.1L628.8 12.9L632 12.5Z" fill="#505050"/>

<!-- crosshair -->
<path d="M656.5 5.2V11M656.5 13.8V19.8M649.1 12.4H655.1M657.9 12.4H664" stroke="#505050" stroke-width="1.3"/>
<rect x="656.1" y="12" width="0.8" height="0.8" fill="#707070"/>

<use href="#sep" x="673" y="0"/>

<!-- vline -->
<path d="M690.4 5.9V18.9" stroke="#505050" stroke-width="1.3"/>
<!-- hline -->
<path d="M713 12.4H724.9" stroke="#505050" stroke-width="1.3"/>
<!-- trend line -->
<path d="M740.8 18.9L752.9 6.6" stroke="#505050" stroke-width="1.25"/>
<!-- channel -->
<g stroke="#505050" fill="none">
<path d="M766.6 13.7L775 6.2M769.2 16.3L778 8.3M771.8 18.9L780.9 10.4" stroke-width="0.95"/>
<path d="M769.5 17.6L770.8 11.8L772.4 14.6L773.8 9L775.6 12L777.3 6L778.4 4.2L779.2 10.4" stroke-width="1"/>
</g>
<text x="777.9" y="20.8" font-size="6.7" font-weight="bold" fill="#303030" font-family="Liberation Sans,sans-serif">E</text>
<!-- fibo -->
<g stroke="#505050" stroke-width="1" stroke-dasharray="0.9 0.9">
<path d="M796 5.5H809.3M796 8.5H809.3M796 12.4H809.3M796 16.6H805.2"/>
</g>
<text x="805.9" y="20.8" font-size="6.7" font-weight="bold" fill="#303030" font-family="Liberation Sans,sans-serif">F</text>
<!-- A -->
<text x="826.2" y="16.9" font-size="12.6" font-weight="normal" stroke="#5a5a5a" stroke-width="0.45" fill="#5a5a5a" font-family="Liberation Sans,sans-serif" transform="translate(826.2 0) scale(0.92 1) translate(-826.2 0)">A</text>
<!-- T label -->
<rect x="853.3" y="6.4" width="11" height="12" fill="none" stroke="#505050" stroke-width="1" stroke-dasharray="1 1"/>
<rect x="852.4" y="5.4" width="2" height="1.3" fill="#404040"/>
<text x="854.7" y="16.6" font-size="10.6" font-weight="bold" fill="#5a5a5a" font-family="Liberation Sans,sans-serif">T</text>
<!-- arrows -->
<g fill="#4a4a4a">
<path d="M883.4 5.7L887 9.3L883.4 10.6L879.8 9.3Z"/>
<path d="M890.6 19L887 15.2L890.6 13.9L894.2 15.2Z"/>
</g>
<path d="M881.8 13.3L884.4 15.6L888.7 10.4" stroke="#4a4a4a" stroke-width="1.2" fill="none"/>
<use href="#dd" x="900.8" y="11"/>

<use href="#bsep" x="912" y="0"/>
<use href="#grip" x="916" y="0"/>

<!-- H4 pressed -->
<g transform="translate(1062,0)" shape-rendering="crispEdges"><rect x="0" y="0" width="25" height="22" fill="url(#hatch)"/><rect x="0" y="0" width="25" height="1" fill="#8f8f8f"/><rect x="0" y="0" width="1" height="22" fill="#8f8f8f"/><rect x="25" y="0" width="1" height="23" fill="#fbfbfb"/><rect x="0" y="22" width="25" height="1" fill="#fbfbfb"/></g>

<g shape-rendering="crispEdges"><rect x="1173" y="0" width="1" height="24" fill="#a0a0a0"/><rect x="1174" y="0" width="1" height="24" fill="#fdfdfd"/></g>

<!-- search -->
<g>
<path d="M1640.8 12.2L1636.3 16.8" stroke="#2a5fd0" stroke-width="2.3" stroke-linecap="round"/>
<circle cx="1643.7" cy="9.3" r="3.6" fill="#f8faff" stroke="#2a5fd0" stroke-width="1.2"/>
</g>
<!-- chat -->
<g>
<path d="M1660.4 13.6C1660.4 10.8 1663 9.4 1666 9.4C1669 9.4 1671.4 10.8 1671.4 13.6C1671.4 16.4 1669 17.9 1666 17.9C1665.4 17.9 1665 17.9 1664.6 17.8L1663.4 20.3L1663.2 17.3C1661.4 16.6 1660.4 15.2 1660.4 13.6Z" fill="url(#gBubble)" stroke="#a6a6a6" stroke-width="0.8"/>
<circle cx="1674.5" cy="9.4" r="8.2" fill="url(#gRed)"/>
</g>
</svg>
<div class="cn" style="left:31px;top:5px">新订单</div>
<div class="cn" style="left:182.7px;top:5px">自动交易</div>
<div class="tf" style="left:914px;top:8px">M1</div>
<div class="tf" style="left:942px;top:8px">M5</div>
<div class="tf" style="left:970.4px;top:8px">M15</div>
<div class="tf" style="left:998.3px;top:8px">M30</div>
<div class="tf" style="left:1026.5px;top:8px">H1</div>
<div class="tf" style="left:1053.7px;top:8px">H4</div>
<div class="tf" style="left:1082.3px;top:8px">D1</div>
<div class="tf" style="left:1111px;top:8px">W1</div>
<div class="tf" style="left:1138px;top:8px">MN</div>
<div class="one">1</div>

</body>
</html>
